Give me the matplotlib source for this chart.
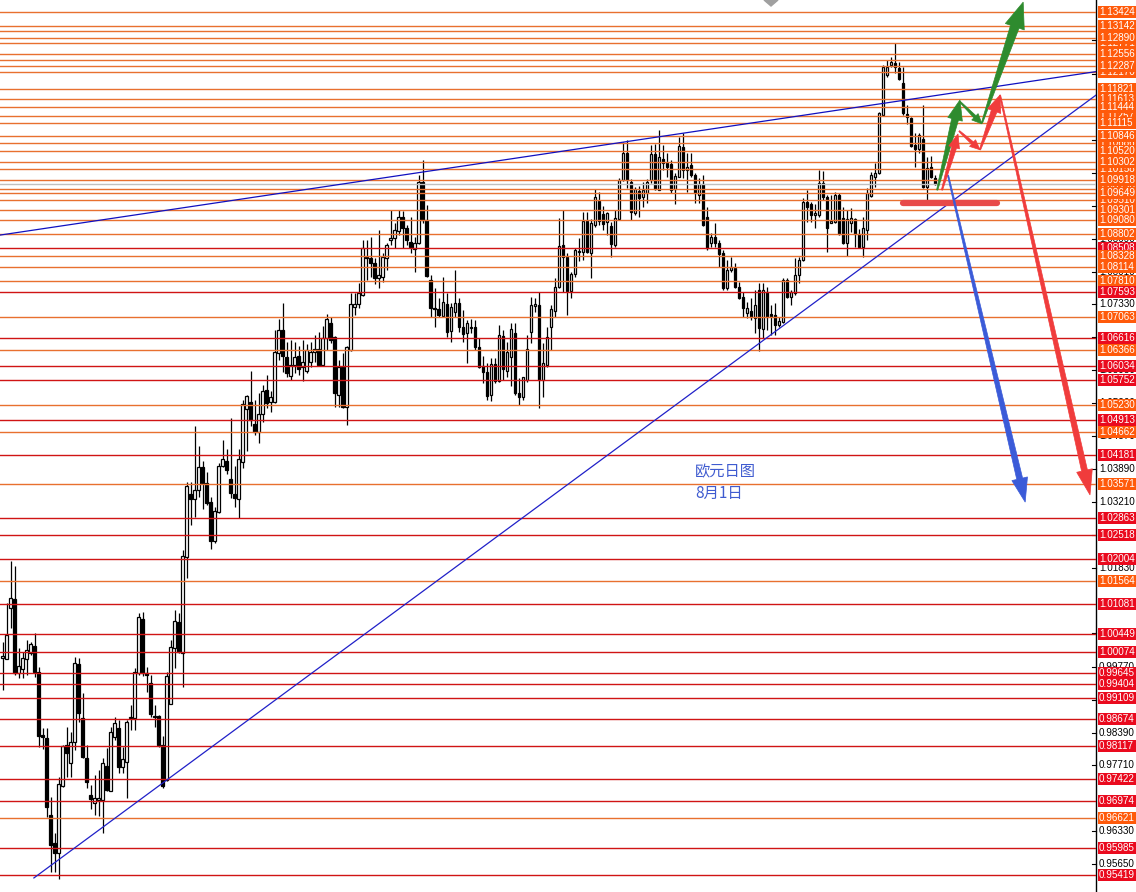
import numpy as np
import matplotlib
matplotlib.use('Agg')
import matplotlib.pyplot as plt
from matplotlib.patches import Rectangle, Polygon
from matplotlib.transforms import blended_transform_factory

# daily EURUSD candles (open, high, low, close)
opens = [0.9995, 0.9993, 1.0099, 1.0118, 0.9963, 0.9972, 0.9993, 1.0005, 1.0020, 0.9966,
         0.9834, 0.9828, 0.9667, 0.9609, 0.9588, 0.9728, 0.9813, 0.9776, 0.9820, 0.9982,
         0.9869, 0.9786, 0.9709, 0.9693, 0.9699, 0.9699, 0.9770, 0.9717, 0.9830, 0.9849,
         0.9767, 0.9778, 0.9869, 0.9869, 0.9963, 1.0076, 0.9963, 0.9943, 0.9874, 0.9874,
         0.9813, 0.9740, 0.9899, 1.0015, 1.0070, 1.0005, 1.0205, 1.0337, 1.0326, 1.0345,
         1.0393, 1.0360, 1.0320, 1.0239, 1.0299, 1.0395, 1.0406, 1.0368, 1.0337, 1.0326,
         1.0404, 1.0514, 1.0529, 1.0483, 1.0466, 1.0504, 1.0554, 1.0529, 1.0529, 1.0631,
         1.0679, 1.0623, 1.0583, 1.0606, 1.0625, 1.0602, 1.0593, 1.0612, 1.0633, 1.0639,
         1.0606, 1.0662, 1.0694, 1.0664, 1.0544, 1.0602, 1.0518, 1.0637, 1.0727, 1.0733,
         1.0752, 1.0831, 1.0829, 1.0819, 1.0787, 1.0790, 1.0829, 1.0867, 1.0871, 1.0885,
         1.0915, 1.0892, 1.0863, 1.0848, 1.0861, 1.0988, 1.0908, 1.0783, 1.0725, 1.0723,
         1.0708, 1.0733, 1.0677, 1.0716, 1.0735, 1.0685, 1.0673, 1.0685, 1.0685, 1.0644,
         1.0604, 1.0591, 1.0543, 1.0608, 1.0573, 1.0667, 1.0593, 1.0623, 1.0673, 1.0548,
         1.0539, 1.0575, 1.0675, 1.0729, 1.0731, 1.0575, 1.0606, 1.0685, 1.0719, 1.0769,
         1.0856, 1.0831, 1.0760, 1.0796, 1.0842, 1.0842, 1.0906, 1.0840, 1.0898, 1.0948,
         1.0921, 1.0904, 1.0896, 1.0856, 1.0911, 1.0992, 1.1048, 1.0988, 1.0923, 1.0969,
         1.0956, 1.0965, 1.0992, 1.1046, 1.0971, 1.1036, 1.1027, 1.1025, 1.0973, 1.0998,
         1.1061, 1.1013, 1.1023, 1.1002, 1.0961, 1.0984, 1.0915, 1.0861, 1.0873, 1.0861,
         1.0840, 1.0767, 1.0804, 1.0808, 1.0769, 1.0748, 1.0714, 1.0719, 1.0704, 1.0763,
         1.0681, 1.0758, 1.0712, 1.0710, 1.0689, 1.0696, 1.0783, 1.0748, 1.0756, 1.0794,
         1.0825, 1.0946, 1.0942, 1.0919, 1.0919, 1.0986, 1.0956, 1.0902, 1.0904, 1.0961,
         1.0913, 1.0861, 1.0902, 1.0911, 1.0879, 1.0852, 1.0888, 1.0959, 1.0998, 1.1006,
         1.1127, 1.1211, 1.1232, 1.1236, 1.1226, 1.1194, 1.1130, 1.1121, 1.1065, 1.1057,
         1.1077, 1.0977, 1.1019, 1.0996]
highs = [1.0028, 1.0110, 1.0197, 1.0186, 1.0015, 1.0007, 1.0032, 1.0028, 1.0047, 0.9976,
         0.9849, 0.9849, 0.9705, 0.9630, 0.9747, 0.9813, 0.9851, 0.9840, 0.9997, 0.9995,
         0.9922, 0.9813, 0.9730, 0.9751, 0.9761, 0.9786, 0.9807, 0.9851, 0.9872, 0.9865,
         0.9809, 0.9865, 0.9897, 0.9974, 1.0089, 1.0091, 0.9976, 0.9959, 0.9897, 0.9876,
         0.9832, 0.9966, 1.0032, 1.0095, 1.0089, 1.0220, 1.0362, 1.0362, 1.0479, 1.0437,
         1.0406, 1.0383, 1.0331, 1.0310, 1.0402, 1.0450, 1.0431, 1.0495, 1.0395, 1.0431,
         1.0533, 1.0543, 1.0593, 1.0533, 1.0548, 1.0564, 1.0585, 1.0552, 1.0679, 1.0702,
         1.0735, 1.0654, 1.0658, 1.0654, 1.0646, 1.0658, 1.0650, 1.0654, 1.0669, 1.0675,
         1.0687, 1.0712, 1.0706, 1.0667, 1.0616, 1.0631, 1.0646, 1.0756, 1.0756, 1.0777,
         1.0867, 1.0867, 1.0873, 1.0829, 1.0888, 1.0840, 1.0861, 1.0929, 1.0902, 1.0929,
         1.0927, 1.0898, 1.0915, 1.0873, 1.1002, 1.1034, 1.0940, 1.0794, 1.0767, 1.0746,
         1.0790, 1.0756, 1.0735, 1.0804, 1.0746, 1.0721, 1.0700, 1.0702, 1.0700, 1.0662,
         1.0625, 1.0610, 1.0621, 1.0621, 1.0689, 1.0679, 1.0654, 1.0694, 1.0694, 1.0579,
         1.0581, 1.0669, 1.0748, 1.0746, 1.0758, 1.0652, 1.0685, 1.0731, 1.0788, 1.0913,
         1.0929, 1.0840, 1.0800, 1.0850, 1.0871, 1.0925, 1.0925, 1.0911, 1.0973, 1.0967,
         1.0938, 1.0925, 1.0904, 1.0929, 1.0996, 1.1071, 1.1075, 1.0994, 1.0977, 1.0979,
         1.0988, 1.0994, 1.1065, 1.1067, 1.1096, 1.1065, 1.1048, 1.1034, 1.1006, 1.1082,
         1.1090, 1.1048, 1.1048, 1.1006, 1.0996, 1.1002, 1.0936, 1.0881, 1.0902, 1.0867,
         1.0846, 1.0825, 1.0831, 1.0819, 1.0779, 1.0758, 1.0737, 1.0746, 1.0763, 1.0777,
         1.0777, 1.0769, 1.0731, 1.0735, 1.0706, 1.0788, 1.0788, 1.0763, 1.0829, 1.0831,
         1.0954, 1.0971, 1.0946, 1.0942, 1.1013, 1.1011, 1.0961, 1.0961, 1.0967, 1.0965,
         1.0936, 1.0929, 1.0934, 1.0913, 1.0890, 1.0915, 1.0975, 1.1009, 1.1027, 1.1134,
         1.1232, 1.1242, 1.1249, 1.1278, 1.1238, 1.1228, 1.1148, 1.1123, 1.1090, 1.1090,
         1.1148, 1.1040, 1.1042, 1.1002]
lows = [0.9928, 0.9993, 1.0057, 0.9960, 0.9953, 0.9953, 0.9959, 1.0001, 0.9955, 0.9809,
        0.9805, 0.9663, 0.9548, 0.9548, 0.9534, 0.9726, 0.9747, 0.9747, 0.9803, 0.9861,
        0.9786, 0.9724, 0.9680, 0.9667, 0.9665, 0.9630, 0.9717, 0.9717, 0.9824, 0.9755,
        0.9755, 0.9703, 0.9844, 0.9844, 0.9959, 0.9957, 0.9924, 0.9872, 0.9851, 0.9809,
        0.9724, 0.9738, 0.9899, 0.9974, 1.0005, 0.9934, 1.0162, 1.0272, 1.0289, 1.0331,
        1.0306, 1.0314, 1.0222, 1.0235, 1.0297, 1.0393, 1.0379, 1.0329, 1.0310, 1.0287,
        1.0391, 1.0427, 1.0479, 1.0460, 1.0443, 1.0487, 1.0516, 1.0508, 1.0527, 1.0616,
        1.0591, 1.0581, 1.0575, 1.0589, 1.0585, 1.0573, 1.0589, 1.0602, 1.0612, 1.0604,
        1.0604, 1.0637, 1.0652, 1.0518, 1.0518, 1.0516, 1.0481, 1.0635, 1.0710, 1.0725,
        1.0750, 1.0783, 1.0789, 1.0775, 1.0767, 1.0779, 1.0804, 1.0856, 1.0850, 1.0877,
        1.0850, 1.0856, 1.0840, 1.0800, 1.0858, 1.0902, 1.0790, 1.0706, 1.0685, 1.0706,
        1.0706, 1.0664, 1.0654, 1.0706, 1.0675, 1.0654, 1.0610, 1.0673, 1.0637, 1.0600,
        1.0568, 1.0533, 1.0531, 1.0568, 1.0571, 1.0575, 1.0581, 1.0562, 1.0543, 1.0523,
        1.0533, 1.0571, 1.0652, 1.0717, 1.0516, 1.0539, 1.0602, 1.0637, 1.0706, 1.0767,
        1.0758, 1.0710, 1.0746, 1.0790, 1.0823, 1.0825, 1.0840, 1.0788, 1.0894, 1.0898,
        1.0888, 1.0877, 1.0831, 1.0852, 1.0908, 1.0990, 1.0975, 1.0908, 1.0919, 1.0915,
        1.0936, 1.0944, 1.0986, 1.0971, 1.0971, 1.1013, 1.0998, 1.0965, 1.0942, 1.0998,
        1.0996, 1.0967, 1.0998, 1.0944, 1.0944, 1.0896, 1.0846, 1.0852, 1.0852, 1.0810,
        1.0763, 1.0763, 1.0800, 1.0767, 1.0744, 1.0706, 1.0704, 1.0700, 1.0673, 1.0635,
        1.0662, 1.0679, 1.0669, 1.0669, 1.0685, 1.0694, 1.0746, 1.0731, 1.0752, 1.0777,
        1.0823, 1.0904, 1.0904, 1.0892, 1.0915, 1.0950, 1.0842, 1.0902, 1.0902, 1.0877,
        1.0858, 1.0833, 1.0883, 1.0852, 1.0850, 1.0831, 1.0867, 1.0956, 1.0977, 1.1004,
        1.1125, 1.1207, 1.1228, 1.1215, 1.1201, 1.1127, 1.1109, 1.1061, 1.1019, 1.1048,
        1.0975, 1.0950, 1.0996, 1.0982]
closes = [0.9999, 1.0042, 1.0120, 0.9963, 0.9978, 0.9995, 1.0012, 1.0024, 0.9966, 0.9832,
          0.9830, 0.9684, 0.9605, 0.9588, 0.9732, 0.9811, 0.9797, 0.9820, 0.9984, 0.9880,
          0.9788, 0.9736, 0.9701, 0.9703, 0.9703, 0.9776, 0.9720, 0.9840, 0.9859, 0.9767,
          0.9784, 0.9861, 0.9872, 0.9966, 1.0080, 0.9963, 0.9959, 0.9878, 0.9872, 0.9813,
          0.9728, 0.9957, 1.0018, 1.0072, 1.0007, 1.0208, 1.0354, 1.0326, 1.0345, 1.0393,
          1.0360, 1.0318, 1.0239, 1.0302, 1.0395, 1.0410, 1.0387, 1.0339, 1.0329, 1.0410,
          1.0525, 1.0541, 1.0491, 1.0466, 1.0504, 1.0552, 1.0527, 1.0539, 1.0633, 1.0679,
          1.0625, 1.0589, 1.0606, 1.0623, 1.0598, 1.0612, 1.0637, 1.0633, 1.0639, 1.0606,
          1.0662, 1.0702, 1.0658, 1.0548, 1.0602, 1.0518, 1.0644, 1.0733, 1.0733, 1.0756,
          1.0850, 1.0829, 1.0819, 1.0787, 1.0794, 1.0831, 1.0856, 1.0871, 1.0888, 1.0915,
          1.0892, 1.0867, 1.0852, 1.0861, 1.0988, 1.0908, 1.0792, 1.0725, 1.0723, 1.0710,
          1.0737, 1.0675, 1.0727, 1.0735, 1.0685, 1.0671, 1.0694, 1.0683, 1.0644, 1.0602,
          1.0591, 1.0541, 1.0608, 1.0573, 1.0669, 1.0598, 1.0633, 1.0681, 1.0548, 1.0539,
          1.0581, 1.0639, 1.0731, 1.0733, 1.0575, 1.0610, 1.0664, 1.0723, 1.0769, 1.0854,
          1.0831, 1.0760, 1.0796, 1.0846, 1.0844, 1.0906, 1.0842, 1.0902, 1.0956, 1.0906,
          1.0900, 1.0923, 1.0858, 1.0913, 1.0992, 1.1048, 1.0992, 1.0925, 1.0973, 1.0954,
          1.0971, 1.0988, 1.1046, 1.0973, 1.1040, 1.1027, 1.1019, 1.0971, 1.1000, 1.1063,
          1.1013, 1.1019, 1.1002, 1.0965, 1.0984, 1.0898, 1.0850, 1.0873, 1.0861, 1.0838,
          1.0767, 1.0804, 1.0810, 1.0769, 1.0746, 1.0725, 1.0725, 1.0706, 1.0731, 1.0683,
          1.0763, 1.0706, 1.0708, 1.0689, 1.0698, 1.0783, 1.0748, 1.0758, 1.0794, 1.0825,
          1.0946, 1.0936, 1.0919, 1.0923, 1.0986, 1.0956, 1.0892, 1.0906, 1.0961, 1.0879,
          1.0861, 1.0911, 1.0913, 1.0879, 1.0852, 1.0892, 1.0965, 1.1002, 1.1006, 1.1132,
          1.1228, 1.1228, 1.1238, 1.1228, 1.1203, 1.1132, 1.1123, 1.1063, 1.1057, 1.1086,
          1.0977, 1.1017, 1.0998, 1.0984]

# horizontal levels with their price labels ('o' orange, 'r' red)
# labels flagged False are partly covered by their neighbours
level_prices = [1.13424, 1.13142, 1.13018, 1.12890, 1.12771, 1.12556, 1.12413, 1.12287,
                1.12170, 1.11821, 1.11613, 1.11444, 1.11257, 1.11115, 1.10846, 1.10686,
                1.10520, 1.10302, 1.10158, 1.09918, 1.09729, 1.09649, 1.09510, 1.09301,
                1.09080, 1.08802, 1.08508, 1.08328, 1.08114, 1.07810, 1.07593, 1.07063,
                1.06616, 1.06366, 1.06034, 1.05752, 1.05230, 1.04913, 1.04662, 1.04181,
                1.03571, 1.02863, 1.02518, 1.02004, 1.01564, 1.01081, 1.00449, 1.00074,
                0.99645, 0.99404, 0.99109, 0.98674, 0.98117, 0.97422, 0.96974, 0.96621,
                0.95985, 0.95419]
level_colors = ['o'] * 26 + ['r', 'o', 'o', 'o', 'r', 'o', 'r', 'o', 'r', 'r', 'o', 'r',
                             'o', 'r', 'o', 'r', 'r', 'r', 'o', 'r', 'r', 'r', 'r', 'r',
                             'r', 'r', 'r', 'r', 'r', 'o', 'r', 'r']
level_front = [True, True, False, True, False, True, False, True, False, True, True, True,
               False, True, True, False, False, True, False, True, False, True, False, True,
               True, True] + [True] * 32

axis_ticks = ['0.95650', '0.96330', '0.97710', '0.98390', '0.99080', '0.99770', '1.00460',
              '1.01830', '1.02520', '1.03210', '1.03890', '1.04570', '1.05260',
              '1.05950', '1.06640', '1.07330', '1.08010', '1.08690', '1.09380', '1.10070',
              '1.10760', '1.11450', '1.12140', '1.12830']

# trend lines (bar index, price)
upper_trend = [(-0.675, 1.0877), (273.3, 1.1218)]
lower_trend = [(7.8, 0.9536), (273.3, 1.1169)]
bid_price = 1.0984
support_bar = [(225.1, 1.0944), (248.6, 1.0944)]

# forecast arrows: start, tip, shaft width px, head width px, head length px, colour
arrows = [
    ((236.3, 1.1002), (255.6, 1.0320), 6, 16, 24, '#3b5bd8'),
    ((249.3, 1.1169), (271.8, 1.0335), 6, 16, 25, '#f03c3c'),
    ((244.8, 1.1111), (255.1, 1.1363), 9, 20, 26, '#2e8b2e'),
    ((233.6, 1.0971), (239.3, 1.1159), 7, 15, 20, '#2e8b2e'),
    ((239.3, 1.1155), (244.8, 1.1109), 3, 9, 10, '#2e8b2e'),
    ((234.8, 1.0971), (238.8, 1.1088), 5, 11, 14, '#f03c3c'),
    ((239.1, 1.1094), (244.3, 1.1055), 3, 9, 10, '#f03c3c'),
    ((244.3, 1.1055), (249.3, 1.1169), 6, 14, 17, '#f03c3c'),
]

line_col = {'o': '#e8702f', 'r': '#d01414'}
box_col = {'o': '#ff5a0a', 'r': '#ea0a1e'}


def draw_arrow(ax, start, tip, shaft, head_w, head_len, color):
    p0 = ax.transData.transform(start)
    p1 = ax.transData.transform(tip)
    u = (p1 - p0) / np.hypot(*(p1 - p0))
    n = np.array([-u[1], u[0]])
    base = p1 - u * head_len
    pts = [p0 + n * 0.6, base + n * shaft / 2, base + n * head_w / 2, p1,
           base - n * head_w / 2, base - n * shaft / 2, p0 - n * 0.6]
    pts = ax.transData.inverted().transform(np.array(pts))
    ax.add_patch(Polygon(pts, closed=True, facecolor=color, edgecolor=color,
                         lw=0.5, zorder=7))


fig = plt.figure(figsize=(11.36, 8.92), dpi=100)
ax = fig.add_axes([0, 0, 1096 / 1136, 1])
ax.set_xlim(-0.675, 273.3)
ax.set_ylim(0.95067, 1.13674)
ax.set_xticks([])
ax.set_yticks([])
for s in ['top', 'left', 'bottom']:
    ax.spines[s].set_visible(False)
ax.spines['right'].set_color('black')
ax.spines['right'].set_linewidth(1)

# candles
o = np.array(opens)
h = np.array(highs)
l = np.array(lows)
c = np.array(closes)
x = np.arange(len(o))
ax.vlines(x, l, h, color='black', lw=0.9, zorder=2)
up = c >= o
ax.bar(x[up], (c - o)[up], bottom=o[up], width=0.62, color='white',
       edgecolor='black', lw=0.9, zorder=3)
ax.bar(x[~up], (o - c)[~up], bottom=c[~up], width=0.62, color='black',
       edgecolor='black', lw=0.9, zorder=3)

# level lines
for p, k in zip(level_prices, level_colors):
    ax.axhline(p, color=line_col[k], lw=1, zorder=4)
ax.axhline(bid_price, color='#c0c0c0', lw=1, zorder=4)

# trend lines
ax.plot(*zip(*upper_trend), color='#1010c0', lw=0.9, zorder=5)
ax.plot(*zip(*lower_trend), color='#2020c8', lw=0.9, zorder=5)
ax.plot(*zip(*support_bar), color='#e84a4a', lw=4.5, solid_capstyle='round', zorder=6)

for a in arrows:
    draw_arrow(ax, *a)

# chart shift marker
ax.add_patch(Polygon([(764 / 1096, 1), (778 / 1096, 1), (771 / 1096, 1 - 6 / 892)],
                     closed=True, transform=ax.transAxes, color='#a0a0a0', zorder=8))

ax.text(173.1, 1.0383, '欧元日图', fontsize=11, color='#3f5bd0', va='center',
        family=['Noto Sans CJK SC', 'DejaVu Sans'], zorder=8)
ax.text(173.1, 1.0339, '8月1日', fontsize=11, color='#3f5bd0', va='center',
        family=['Noto Sans CJK SC', 'DejaVu Sans'], zorder=8)

# price scale on the right
tr = blended_transform_factory(ax.transAxes, ax.transData)
box_h = 12 * 0.0002086
lab_x = 1099 / 1096
for t in axis_ticks:
    v = float(t)
    ax.plot([1 - 4 / 1096, 1], [v, v], color='black', lw=0.8, transform=tr, clip_on=False)
    ax.text(lab_x, v, t, transform=tr, fontsize=7.1, family='Liberation Sans',
            color='black', va='center', ha='left', clip_on=False, zorder=9)

order = [i for i in range(len(level_prices)) if not level_front[i]] + \
        [i for i in range(len(level_prices)) if level_front[i]]
for z, i in enumerate(order):
    p = level_prices[i]
    k = level_colors[i]
    ax.add_patch(Rectangle((1098 / 1096, p - box_h / 2), 40 / 1096, box_h, transform=tr,
                           facecolor=box_col[k], edgecolor='none', clip_on=False,
                           zorder=10 + z * 0.01))
    ax.text(lab_x, p, f'{p:.5f}', transform=tr, fontsize=7.1, family='Liberation Sans',
            color='white', va='center', ha='left', clip_on=False, zorder=10 + z * 0.01 + 0.005)

fig.savefig('out.png', dpi=100)
